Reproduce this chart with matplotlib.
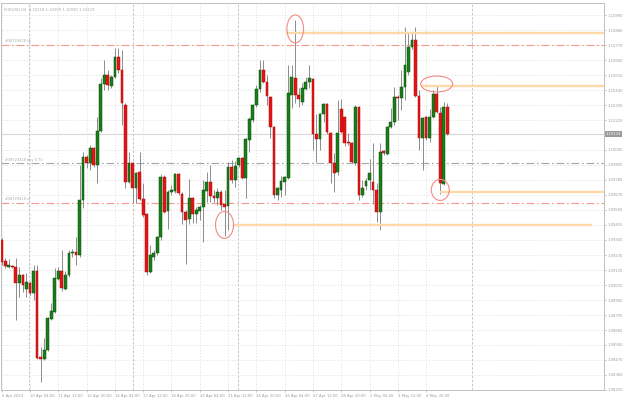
import matplotlib
matplotlib.use("Agg")
import matplotlib.pyplot as plt
from matplotlib.patches import Ellipse
from matplotlib.transforms import blended_transform_factory

# EURUSD H4 candles
opens = [1.09346, 1.09192, 1.09148, 1.09155, 1.09148, 1.09031, 1.09090, 1.08988, 1.09031, 1.08958,
         1.09119, 1.08490, 1.08476, 1.08542, 1.08768, 1.08819, 1.09061, 1.09119, 1.08988, 1.09090,
         1.09251, 1.09258, 1.09236, 1.09638, 1.09952, 1.09908, 1.10018, 1.09894, 1.10142, 1.10486,
         1.10552, 1.10471, 1.10537, 1.10683, 1.10588, 1.10332, 1.09770, 1.09908, 1.09726, 1.09843,
         1.09645, 1.09536, 1.09112, 1.09221, 1.09251, 1.09368, 1.09806, 1.09558, 1.09696, 1.09704,
         1.09828, 1.09682, 1.09550, 1.09499, 1.09653, 1.09536, 1.09558, 1.09587, 1.09704, 1.09770,
         1.09667, 1.09653, 1.09696, 1.09609, 1.09594, 1.09879, 1.09784, 1.09894, 1.09945, 1.09799,
         1.10077, 1.10223, 1.10332, 1.10449, 1.10588, 1.10501, 1.10391, 1.10172, 1.09674, 1.09711,
         1.09770, 1.09799, 1.10406, 1.10530, 1.10406, 1.10354, 1.10449, 1.10501, 1.10522, 1.10120,
         1.10084, 1.10267, 1.10340, 1.10128, 1.09908, 1.09843, 1.10303, 1.10245, 1.10062, 1.10055,
         1.09908, 1.10318, 1.09674, 1.09740, 1.09784, 1.09770, 1.09711, 1.09550, 1.09996, 1.09974,
         1.10172, 1.10208, 1.10391, 1.10384, 1.10464, 1.10574, 1.10757, 1.10808, 1.10398, 1.10091,
         1.10245, 1.10091, 1.10245, 1.10413, 1.10274, 1.09755, 1.10318]
highs = [1.09361, 1.09214, 1.09206, 1.09162, 1.09214, 1.09148, 1.09097, 1.09104, 1.09039, 1.09162,
         1.09162, 1.08564, 1.08630, 1.08783, 1.08885, 1.09141, 1.09148, 1.09273, 1.09119, 1.09273,
         1.09280, 1.09368, 1.09894, 1.09989, 1.09967, 1.10040, 1.10025, 1.10245, 1.10530, 1.10661,
         1.10588, 1.10552, 1.10749, 1.10749, 1.10735, 1.10347, 1.09989, 1.09916, 1.09843, 1.09989,
         1.09762, 1.09543, 1.09309, 1.09273, 1.09375, 1.09828, 1.09821, 1.09711, 1.09748, 1.09835,
         1.09835, 1.09696, 1.09565, 1.09792, 1.09660, 1.09587, 1.09601, 1.09784, 1.09843, 1.09894,
         1.09711, 1.09726, 1.09711, 1.09711, 1.09916, 1.09930, 1.09923, 1.09952, 1.09952, 1.10091,
         1.10245, 1.10340, 1.10479, 1.10661, 1.10661, 1.10552, 1.10398, 1.10179, 1.09733, 1.09814,
         1.09814, 1.10625, 1.10625, 1.10954, 1.10457, 1.10493, 1.10537, 1.10625, 1.10530, 1.10267,
         1.10274, 1.10347, 1.10347, 1.10135, 1.09982, 1.10369, 1.10376, 1.10252, 1.10128, 1.10062,
         1.10332, 1.10325, 1.09784, 1.09799, 1.09938, 1.10055, 1.09762, 1.10055, 1.10004, 1.10179,
         1.10311, 1.10464, 1.10406, 1.10588, 1.10903, 1.10866, 1.10866, 1.10903, 1.10442, 1.10245,
         1.10252, 1.10303, 1.10442, 1.10471, 1.10318, 1.10354, 1.10347]
lows = [1.09162, 1.09141, 1.09141, 1.09141, 1.08761, 1.08929, 1.08966, 1.08929, 1.08944, 1.08907,
        1.08476, 1.08308, 1.08468, 1.08535, 1.08761, 1.08812, 1.09053, 1.08973, 1.08980, 1.09075,
        1.09221, 1.09162, 1.09221, 1.09580, 1.09872, 1.09857, 1.09879, 1.09762, 1.10135, 1.10442,
        1.10442, 1.10457, 1.10530, 1.10566, 1.10186, 1.09726, 1.09762, 1.09616, 1.09616, 1.09638,
        1.09514, 1.09090, 1.09104, 1.09199, 1.09236, 1.09346, 1.09543, 1.09426, 1.09674, 1.09689,
        1.09674, 1.09463, 1.09170, 1.09463, 1.09470, 1.09470, 1.09492, 1.09331, 1.09623, 1.09623,
        1.09623, 1.09601, 1.09565, 1.09375, 1.09419, 1.09762, 1.09733, 1.09879, 1.09792, 1.09653,
        1.09989, 1.10208, 1.10318, 1.10427, 1.10493, 1.10332, 1.10091, 1.09653, 1.09638, 1.09660,
        1.09674, 1.09792, 1.10311, 1.10347, 1.10318, 1.10332, 1.10442, 1.10457, 1.10004, 1.09916,
        1.10004, 1.10208, 1.10120, 1.09762, 1.09696, 1.09821, 1.10128, 1.10033, 1.10040, 1.09908,
        1.09894, 1.09638, 1.09660, 1.09711, 1.09711, 1.09609, 1.09477, 1.09419, 1.09967, 1.09967,
        1.10164, 1.10186, 1.10223, 1.10296, 1.10369, 1.10552, 1.10742, 1.10391, 1.10004, 1.09857,
        1.10077, 1.10062, 1.10237, 1.10274, 1.09682, 1.09748, 1.10113]
closes = [1.09184, 1.09155, 1.09162, 1.09148, 1.09031, 1.09090, 1.09017, 1.09039, 1.08958, 1.09119,
          1.08483, 1.08476, 1.08542, 1.08776, 1.08827, 1.09068, 1.09119, 1.08995, 1.09090, 1.09251,
          1.09258, 1.09236, 1.09638, 1.09952, 1.09908, 1.10018, 1.09894, 1.10142, 1.10486, 1.10552,
          1.10479, 1.10537, 1.10683, 1.10588, 1.10347, 1.09770, 1.09908, 1.09726, 1.09835, 1.09645,
          1.09528, 1.09112, 1.09236, 1.09251, 1.09368, 1.09806, 1.09550, 1.09696, 1.09711, 1.09828,
          1.09689, 1.09550, 1.09492, 1.09653, 1.09536, 1.09565, 1.09587, 1.09711, 1.09770, 1.09667,
          1.09653, 1.09696, 1.09601, 1.09587, 1.09879, 1.09784, 1.09887, 1.09945, 1.09799, 1.10084,
          1.10230, 1.10332, 1.10449, 1.10588, 1.10501, 1.10398, 1.10172, 1.09674, 1.09726, 1.09777,
          1.09806, 1.10420, 1.10537, 1.10406, 1.10376, 1.10457, 1.10501, 1.10530, 1.10120, 1.10084,
          1.10267, 1.10340, 1.10135, 1.09908, 1.09835, 1.10128, 1.10135, 1.10055, 1.10055, 1.09916,
          1.10318, 1.09674, 1.09726, 1.09777, 1.09835, 1.09711, 1.09550, 1.09989, 1.09982, 1.10172,
          1.10208, 1.10391, 1.10384, 1.10464, 1.10625, 1.10757, 1.10808, 1.10398, 1.10091, 1.10237,
          1.10091, 1.10245, 1.10413, 1.10281, 1.09762, 1.10318, 1.10120]

time_labels = ["6 Apr 2023", "10 Apr 04:00", "11 Apr 12:00", "12 Apr 20:00", "14 Apr 04:00",
               "17 Apr 12:00", "18 Apr 20:00", "20 Apr 04:00", "21 Apr 12:00", "24 Apr 20:00",
               "26 Apr 04:00", "27 Apr 12:00", "28 Apr 20:00", "2 May 04:00", "3 May 12:00",
               "4 May 20:00"]
label_step = 8  # bars between time labels

price_ticks = [1.10990, 1.10880, 1.10770, 1.10660, 1.10550, 1.10440, 1.10330, 1.10220,
               1.10005, 1.09895, 1.09785, 1.09675, 1.09565, 1.09455, 1.09345, 1.09235,
               1.09125, 1.09015, 1.08905, 1.08795, 1.08685, 1.08580, 1.08470, 1.08360, 1.08250]

title = "EURUSD,H4  1.10118 1.10309 1.10090 1.10119"
bid = 1.10119

# order lines (ticket, price, kind)
order_lines = [("#38729418 tp", 1.10771, "tp"),
               ("#38729418 buy 0.70", 1.09906, "buy"),
               ("#38729418 sl", 1.09616, "sl")]

# hand-drawn horizontal levels: price, start bar, end bar (None = to the edge)
levels = [1.10859, 1.10471, 1.09696, 1.09455]
level_start = [80.5, 118.7, 124.0, 65.4]
level_end = [None, None, None, 166.9]

# circled candles: bar index, which end
circled = [(83, "high"), (63, "low"), (123, "high"), (124, "low")]

# period separators (bar positions)
separators = [7.8, 37.2, 66.9, 133.0]

# ---- screen pixel sizes in data units
PX_BAR = 3.537
PX_PRICE = 0.0000731

fig = plt.figure(figsize=(6.25, 4), dpi=100)
fig.patch.set_facecolor("white")
ax = fig.add_axes([1 / 625, 10 / 400, 603 / 625, 387 / 400])
ax.set_xlim(-0.2, 170.3)
ax.set_ylim(1.08248, 1.11078)

txt_col = "#9c9c9c"
fs = 2.7

# grid and ticks
ax.set_xticks(range(0, len(time_labels) * label_step, label_step))
ax.set_xticklabels(time_labels, ha="left", fontsize=fs, color=txt_col)
ax.set_yticks(price_ticks)
ax.set_yticklabels([f"{p:.5f}" for p in price_ticks], fontsize=fs, color=txt_col)
ax.yaxis.tick_right()
ax.tick_params(axis="both", length=1.5, width=0.5, color="#b0b0b0", pad=1.2)
ax.grid(True, color="#d4d4d4", lw=0.5, ls=(0, (1.5, 2.5)))
ax.set_axisbelow(True)
for s in ax.spines.values():
    s.set_color("#b8b8b8")
    s.set_linewidth(0.6)

for xs in separators:
    ax.axvline(xs, color="#bdbdbd", lw=0.6, ls=(0, (3, 2)), zorder=0.5)

# candles
for i in range(len(opens)):
    o, h, l, c = opens[i], highs[i], lows[i], closes[i]
    ax.vlines(i, l, h, color="#8c8c8c", lw=0.7, zorder=2)
    up = c >= o
    body_lo = min(o, c)
    body_h = max(abs(c - o), PX_PRICE * 0.8)
    ax.bar(i, body_h, bottom=body_lo, width=0.78,
           color="#1b7d1b" if up else "#e51414",
           edgecolor="#0a4f0a" if up else "#a80d0d", lw=0.35, zorder=3)

# order lines
for name, price, kind in order_lines:
    col = "#a6a6a6" if kind == "buy" else "#f29a86"
    ax.axhline(price, color=col, lw=0.8, ls=(0, (7, 2.5, 1.5, 2.5)), zorder=1)
    ax.text(1.0, price + 1.5 * PX_PRICE, name, fontsize=2.5, color="#a8a8a8",
            va="bottom", ha="left")

# bid line
ax.axhline(bid, color="#d6d6d6", lw=0.8, zorder=1)

# hand-drawn levels
xmax = ax.get_xlim()[1]
for price, x0, x1 in zip(levels, level_start, level_end):
    ax.hlines(price, x0, xmax if x1 is None else x1, color="#fdd9a8", lw=1.7, zorder=4)

# ellipses around the circled highs/lows: width px, height px, offset px
ell_size = {83: (16.7, 28, -9), 63: (18, 27, 11), 123: (32, 16, 2), 124: (18, 21, 4)}
for idx, end in circled:
    w, hgt, off = ell_size[idx]
    y = highs[idx] if end == "high" else lows[idx]
    e = Ellipse((idx, y + off * PX_PRICE), w / PX_BAR, hgt * PX_PRICE,
                fill=False, edgecolor="#f28b82", lw=0.8, zorder=5)
    ax.add_patch(e)

# title
ax.text(0.005, 0.988, title, transform=ax.transAxes, fontsize=fs, color="#a8a8a8",
        va="top", ha="left")

# current price box on the right scale
tr = blended_transform_factory(ax.transAxes, ax.transData)
ax.text(1.003, bid, f"{bid:.5f}", transform=tr, fontsize=fs, color="white",
        va="center", ha="left",
        bbox=dict(boxstyle="square,pad=0.25", fc="#9a9a9a", ec="none"))

fig.savefig("out.png", dpi=100, facecolor="white")
